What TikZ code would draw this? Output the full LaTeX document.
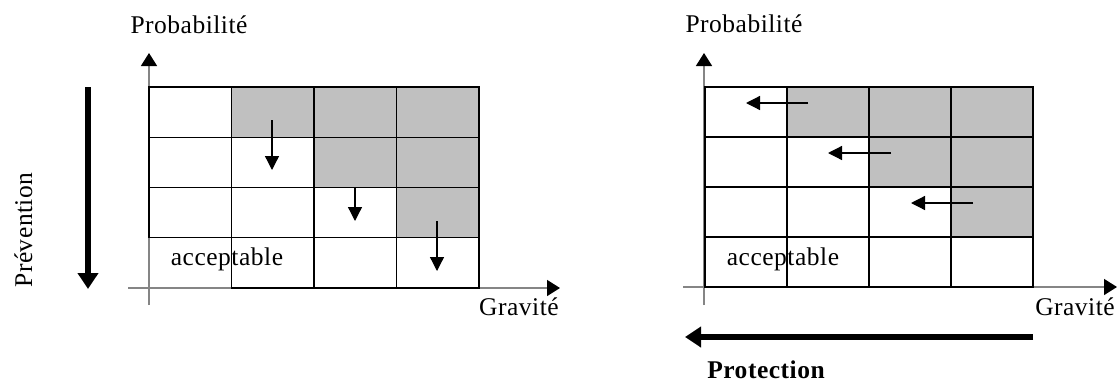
\documentclass[tikz,border=0pt]{standalone}
\usepackage{fontspec}
\setmainfont{Liberation Serif}[LetterSpace=2]
\usetikzlibrary{arrows.meta}
\definecolor{cellshade}{HTML}{C0C0C0}
\definecolor{axisgray}{HTML}{858585}
\begin{document}
\begin{tikzpicture}[x=1pt,y=-1pt,
  lbl/.style={font=\fontsize{25.5}{30}\selectfont, inner sep=0pt, anchor=base},
  cellline/.style={line width=1.2pt, draw=black},
  axisline/.style={line width=1.5pt, draw=axisgray, -{Triangle[length=13pt,width=16pt,color=black]}},
  smallarrow/.style={line width=1.3pt, -{Triangle[length=14pt,width=14pt]}},
  bigarrow/.style={line width=6pt, -{Triangle[length=16pt,width=20pt]}},
]
\useasboundingbox (0,0) rectangle (1118,383);

% ---------- left diagram ----------
\foreach \c/\r in {1/0,2/0,3/0,2/1,3/1,3/2}
  \fill[cellshade] (149+82.5*\c, 87+50.25*\r) rectangle ++(82.5,50.25);
\draw[axisline] (149,305) -- (149,53);
\draw[axisline] (128,288) -- (560,288);
\foreach \c in {0,...,3}
  \foreach \r in {0,...,3}{
    \ifnum\c=0 \ifnum\r=3 \else
      \draw[cellline] (149+82.5*\c, 87+50.25*\r) rectangle ++(82.5,50.25);
    \fi\else
      \draw[cellline] (149+82.5*\c, 87+50.25*\r) rectangle ++(82.5,50.25);
    \fi
  }
\coordinate (la1) at (272,120); \coordinate (lb1) at (272,170);
\coordinate (la2) at (355,188); \coordinate (lb2) at (355,221);
\coordinate (la3) at (437,221); \coordinate (lb3) at (437,271);
\draw[smallarrow] (la1) -- (lb1);
\draw[smallarrow] (la2) -- (lb2);
\draw[smallarrow] (la3) -- (lb3);
\node[lbl] (probL) at (189,33) {Probabilité};
\node[lbl] (gravL) at (519,315) {Gravité};
\node[lbl] (accL) at (227,265) {acceptable};
\node[lbl, rotate=90] (prev) at (32,230) {Prévention};
\coordinate (pa) at (88,87); \coordinate (pb) at (88,289);
\draw[bigarrow] (pa) -- (pb);

% ---------- right diagram ----------
\foreach \c/\r in {1/0,2/0,3/0,2/1,3/1,3/2}
  \fill[cellshade] (705+82*\c, 87+50*\r) rectangle ++(82,50);
\draw[axisline] (704,305) -- (704,53);
\draw[axisline] (683,287) -- (1117,287);
\foreach \c in {0,...,3}
  \foreach \r in {0,...,3}
    \draw[cellline] (705+82*\c, 87+50*\r) rectangle ++(82,50);
\coordinate (ra1) at (808,103); \coordinate (rb1) at (746,103);
\coordinate (ra2) at (891,153); \coordinate (rb2) at (828,153);
\coordinate (ra3) at (973,203); \coordinate (rb3) at (911,203);
\draw[smallarrow] (ra1) -- (rb1);
\draw[smallarrow] (ra2) -- (rb2);
\draw[smallarrow] (ra3) -- (rb3);
\node[lbl] (probR) at (744,32) {Probabilité};
\node[lbl] (gravR) at (1075,315) {Gravité};
\node[lbl] (accR) at (783,265) {acceptable};
\coordinate (qa) at (1033,337); \coordinate (qb) at (685,337);
\draw[bigarrow] (qa) -- (qb);
\node[lbl, font=\fontsize{25.5}{30}\selectfont\bfseries] (prot) at (766,378) {Protection};
\end{tikzpicture}
\end{document}
